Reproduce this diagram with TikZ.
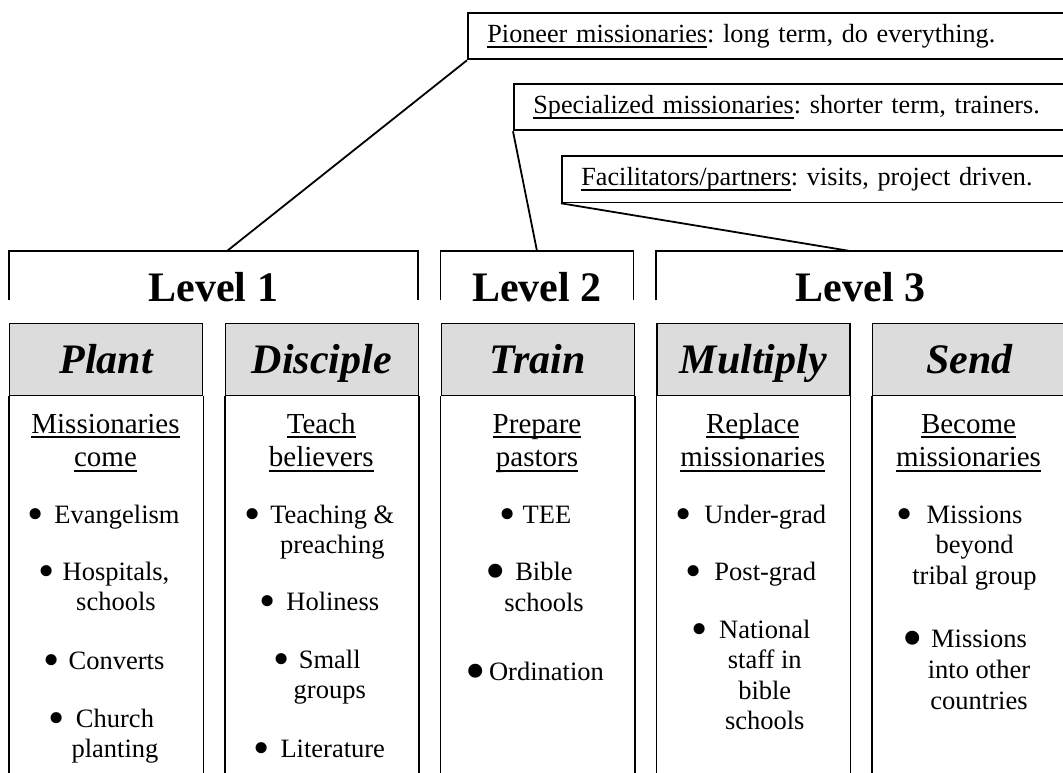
\documentclass[tikz,border=0pt]{standalone}
\usepackage{fontspec}
\usepackage{graphicx}
\setmainfont{Liberation Serif}
\frenchspacing
\definecolor{hdrgray}{RGB}{220,220,220}

% underline set just below the baseline, crossing descenders
\newcommand{\uln}[1]{\setbox0\hbox{#1}\rlap{\rule[-5.2pt]{\wd0}{1.8pt}}\box0}
% bullets: regular and large dot, each in a box as wide as the dot
\newcommand{\bul}{\makebox[9pt]{\raisebox{-6.8pt}{\scalebox{1.75}{\textbullet}}}}
\newcommand{\bigbul}{\makebox[11pt]{\raisebox{-10.5pt}{\scalebox{2.2}{\textbullet}}}}
% bullet item: optional gap between bullet and text, text lines centred
\newcommand{\itm}[2][14pt]{\begin{tabular}[t]{@{}c@{\hspace{#1}}c@{}}\bul & #2\end{tabular}}
\newcommand{\bitm}[2][14pt]{\begin{tabular}[t]{@{}c@{\hspace{#1}}c@{}}\bigbul & #2\end{tabular}}
\newcommand{\subhd}[1]{\begin{tabular}[t]{@{}c@{}}#1\end{tabular}}

\tikzset{
  callout/.style={draw, line width=1.8pt, rectangle, anchor=north west,
    inner xsep=19.5pt, inner ysep=0pt, minimum height=46.5pt,
    text width=601pt, align=left, font=\fontsize{26.2pt}{30pt}\selectfont},
  leader/.style={line width=1.8pt},
  bracket/.style={line width=1.8pt},
  lvl/.style={anchor=base, inner sep=0pt, font=\fontsize{42pt}{48pt}\selectfont\bfseries},
  hdr/.style={draw, line width=1.4pt, fill=hdrgray, rectangle, anchor=north west,
    minimum width=193pt, minimum height=72pt, inner sep=0pt,
    text height=28pt, text depth=0pt,
    font=\fontsize{42pt}{48pt}\selectfont\bfseries\itshape},
  colside/.style={line width=1.5pt},
  subhead/.style={anchor=base, inner sep=0pt, font=\fontsize{29pt}{33.5pt}\selectfont},
  item/.style={anchor=base, inner sep=0pt, font=\fontsize{26.5pt}{30.5pt}\selectfont}
}

\begin{document}
\begin{tikzpicture}[x=1pt,y=-1pt]
\useasboundingbox (0,0) rectangle (1063,773);
\clip (0,0) rectangle (1063,773);

% ---- role call-outs ----
\node[callout] (pio)  at (467,12)  {\uln{Pioneer missionaries}: long term, do everything.};
\node[callout] (spec) at (513,83)  {\uln{Specialized missionaries}: shorter term, trainers.};
\node[callout] (fac)  at (561,155) {\uln{Facilitators/partners}: visits, project driven.};

% ---- level brackets ----
\coordinate (l1top) at (227,251);
\coordinate (l2top) at (537,251);
\coordinate (l3top) at (850,251);
\draw[bracket] (9,300) -- (9,251) -- (417.75,251) -- (417.75,300);
\draw[bracket] (440.5,300) -- (440.5,251) -- (633.5,251) -- (633.5,300);
\draw[bracket] (656.25,300) -- (656.25,251) -- (1080,251);
\node[lvl] (lv1) at (213.4,301) {Level 1};
\node[lvl] (lv2) at (537,301) {Level 2};
\node[lvl] (lv3) at (860.5,301) {Level 3};

% ---- leaders from call-outs to levels ----
\draw[leader] (pio.south west)  -- (l1top);
\draw[leader] (spec.south west) -- (l2top);
\draw[leader] (fac.south west)  -- (l3top);

% ---- stage columns ----
\node[hdr] (h1) at (9,323)      {Plant};
\node[hdr] (h2) at (224.75,323) {Disciple};
\node[hdr] (h3) at (440.5,323)  {Train};
\node[hdr] (h4) at (656.25,323) {Multiply};
\node[hdr] (h5) at (872,323)    {Send};
\foreach \h in {h1,h2,h3,h4,h5}{
  \draw[colside] (\h.south west) -- ++(0,420);
  \draw[colside] (\h.south east) -- ++(0,420);
}

% Plant
\node[subhead] (p0) at (105.5,433) {\subhd{\uln{Missionaries}\\\uln{come}}};
\node[item] (p1) at (105.5,523) {\itm[14pt]{Evangelism}};
\node[item] (p2) at (105.5,580) {\itm[12pt]{Hospitals,\\ & schools}};
\node[item] (p3) at (105.5,669) {\itm[13pt]{Converts}};
\node[item] (p4) at (105.5,727) {\itm[10pt]{Church\\ & planting}};

% Disciple
\node[subhead] (d0) at (321.25,433) {\subhd{\uln{Teach}\\\uln{believers}}};
\node[item] (d1) at (321.25,523) {\itm[13pt]{Teaching \&\\ & preaching}};
\node[item] (d2) at (321.25,610) {\itm[14pt]{Holiness}};
\node[item] (d3) at (321.25,668) {\itm[8pt]{Small\\ & groups}};
\node[item] (d4) at (321.25,757) {\itm[14pt]{Literature}};

% Train
\node[subhead] (t0) at (537,433) {\subhd{\uln{Prepare}\\\uln{pastors}}};
\node[item] (t1) at (537,523) {\itm[11pt]{TEE}};
\node[item] (t2) at (537,580) {\bitm[3pt]{Bible\\ & schools}};
\node[item] (t3) at (537,680) {\bitm[8pt]{Ordination}};

% Multiply
\node[subhead] (m0) at (752.75,433) {\subhd{\uln{Replace}\\\uln{missionaries}}};
\node[item] (m1) at (752.75,523) {\itm[16pt]{Under-grad}};
\node[item] (m2) at (752.75,580) {\itm[16pt]{Post-grad}};
\node[item] (m3) at (752.75,638) {\itm[15pt]{National\\ & staff in\\ & bible\\ & schools}};

% Send
\node[subhead] (s0) at (968.5,433) {\subhd{\uln{Become}\\\uln{missionaries}}};
\node[item] (s1) at (968.5,523) {\itm[3pt]{Missions\\ & beyond\\ & tribal group}};
\node[item] (s2) at (968.5,647) {\bitm[10pt]{Missions\\ & into other\\ & countries}};
\end{tikzpicture}
\end{document}
